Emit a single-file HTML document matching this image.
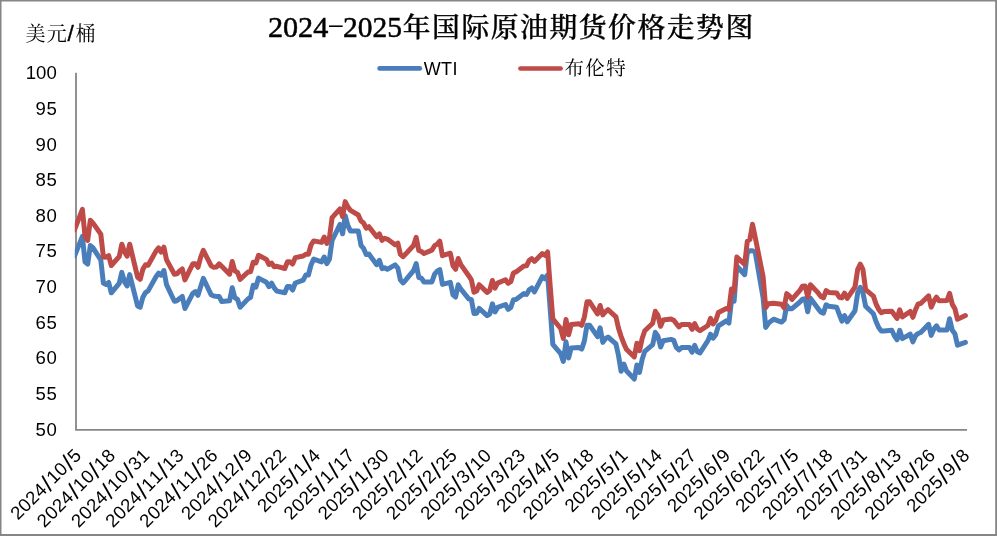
<!DOCTYPE html>
<html lang="zh-CN">
<head>
<meta charset="utf-8">
<title>2024-2025年国际原油期货价格走势图</title>
<style>
html,body{margin:0;padding:0;background:#fff;}
body{width:997px;height:536px;overflow:hidden;}
svg{display:block;}
.num{font-family:"Liberation Sans",sans-serif;font-size:18.6px;fill:#000;}
.xs{font-size:23.5px;}
.title{font-family:"Liberation Serif","Noto Serif CJK SC",serif;fill:#000;}
.tdig{font-size:30.4px;font-weight:normal;stroke:#000;stroke-width:0.5px;}
.thy{font-size:21px;font-weight:normal;}
.tcjk{font-size:27.8px;font-weight:500;stroke:#000;stroke-width:0.35px;}
.cjk{font-family:"Liberation Sans","Noto Serif CJK SC",serif;font-size:20px;fill:#000;}
.sl{font-size:22.5px;stroke:#000;stroke-width:0.4px;}
.leg{font-family:"Liberation Sans","Noto Serif CJK SC",serif;font-size:20px;fill:#000;}
</style>
</head>
<body>
<svg width="997" height="536" viewBox="0 0 997 536">
<rect x="0" y="0" width="997" height="536" fill="#fff"/>
<path d="M0 0H997V536H0Z M1.5 1.5V534H995.2V1.5Z" fill="#868686" fill-rule="evenodd"/>
<text class="title" y="36.6"><tspan class="tdig" x="267.9" textLength="60.4" lengthAdjust="spacingAndGlyphs">2024</tspan><tspan class="thy" x="327.0" dy="-5.6" textLength="17.6" lengthAdjust="spacingAndGlyphs">-</tspan><tspan class="tdig" x="343.1" dy="5.6" textLength="59.0" lengthAdjust="spacingAndGlyphs">2025</tspan><tspan class="tcjk" x="402.8" dy="0" letter-spacing="1.53">年国际原油期货价格走势图</tspan></text>
<text class="cjk" x="25.5" y="40.7" letter-spacing="1.2">美元<tspan class="sl" dx="-0.4">/</tspan><tspan dx="0.5">桶</tspan></text>
<line x1="379.6" y1="68.4" x2="419.8" y2="68.4" stroke="#4A7EBB" stroke-width="4.7" stroke-linecap="round"/>
<text class="leg" x="423.7" y="74.9" style="font-size:18px" letter-spacing="0.4">WTI</text>
<line x1="520.5" y1="68.5" x2="560.6" y2="68.5" stroke="#BE4B48" stroke-width="4.7" stroke-linecap="round"/>
<text class="leg" x="564.4" y="75.4" style="font-size:19.5px" letter-spacing="1.45">布伦特</text>
<g class="num">
<text x="56.8" y="79.3" text-anchor="end">100</text>
<text x="57.3" y="114.9" text-anchor="end" letter-spacing="0.5">95</text>
<text x="57.3" y="150.6" text-anchor="end" letter-spacing="0.5">90</text>
<text x="57.3" y="186.2" text-anchor="end" letter-spacing="0.5">85</text>
<text x="57.3" y="221.8" text-anchor="end" letter-spacing="0.5">80</text>
<text x="57.3" y="257.4" text-anchor="end" letter-spacing="0.5">75</text>
<text x="57.3" y="293.1" text-anchor="end" letter-spacing="0.5">70</text>
<text x="57.3" y="328.7" text-anchor="end" letter-spacing="0.5">65</text>
<text x="57.3" y="364.3" text-anchor="end" letter-spacing="0.5">60</text>
<text x="57.3" y="400.0" text-anchor="end" letter-spacing="0.5">55</text>
<text x="57.3" y="435.6" text-anchor="end" letter-spacing="0.5">50</text>
</g>
<g class="num">
<text transform="translate(82.3,456.5) rotate(-45)" x="-91.0 -80.3 -69.6 -58.9 -47.6 -40.1 -29.4 -18.0 -10.5">2024<tspan class="xs" dy="2.3">/</tspan><tspan dy="-2.3">10</tspan><tspan class="xs" dy="2.3">/</tspan><tspan dy="-2.3">5</tspan></text>
<text transform="translate(116.5,456.5) rotate(-45)" x="-101.7 -91.0 -80.3 -69.6 -58.3 -50.8 -40.1 -28.7 -21.2 -10.5">2024<tspan class="xs" dy="2.3">/</tspan><tspan dy="-2.3">10</tspan><tspan class="xs" dy="2.3">/</tspan><tspan dy="-2.3">18</tspan></text>
<text transform="translate(150.7,456.5) rotate(-45)" x="-101.7 -91.0 -80.3 -69.6 -58.3 -50.8 -40.1 -28.7 -21.2 -10.5">2024<tspan class="xs" dy="2.3">/</tspan><tspan dy="-2.3">10</tspan><tspan class="xs" dy="2.3">/</tspan><tspan dy="-2.3">31</tspan></text>
<text transform="translate(184.8,456.5) rotate(-45)" x="-101.7 -91.0 -80.3 -69.6 -58.3 -50.8 -40.1 -28.7 -21.2 -10.5">2024<tspan class="xs" dy="2.3">/</tspan><tspan dy="-2.3">11</tspan><tspan class="xs" dy="2.3">/</tspan><tspan dy="-2.3">13</tspan></text>
<text transform="translate(219.0,456.5) rotate(-45)" x="-101.7 -91.0 -80.3 -69.6 -58.3 -50.8 -40.1 -28.7 -21.2 -10.5">2024<tspan class="xs" dy="2.3">/</tspan><tspan dy="-2.3">11</tspan><tspan class="xs" dy="2.3">/</tspan><tspan dy="-2.3">26</tspan></text>
<text transform="translate(253.2,456.5) rotate(-45)" x="-91.0 -80.3 -69.6 -58.9 -47.6 -40.1 -29.4 -18.0 -10.5">2024<tspan class="xs" dy="2.3">/</tspan><tspan dy="-2.3">12</tspan><tspan class="xs" dy="2.3">/</tspan><tspan dy="-2.3">9</tspan></text>
<text transform="translate(287.3,456.5) rotate(-45)" x="-101.7 -91.0 -80.3 -69.6 -58.3 -50.8 -40.1 -28.7 -21.2 -10.5">2024<tspan class="xs" dy="2.3">/</tspan><tspan dy="-2.3">12</tspan><tspan class="xs" dy="2.3">/</tspan><tspan dy="-2.3">22</tspan></text>
<text transform="translate(321.5,456.5) rotate(-45)" x="-80.3 -69.6 -58.9 -48.2 -36.9 -29.4 -18.0 -10.5">2025<tspan class="xs" dy="2.3">/</tspan><tspan dy="-2.3">1</tspan><tspan class="xs" dy="2.3">/</tspan><tspan dy="-2.3">4</tspan></text>
<text transform="translate(355.7,456.5) rotate(-45)" x="-91.0 -80.3 -69.6 -58.9 -47.6 -40.1 -28.7 -21.2 -10.5">2025<tspan class="xs" dy="2.3">/</tspan><tspan dy="-2.3">1</tspan><tspan class="xs" dy="2.3">/</tspan><tspan dy="-2.3">17</tspan></text>
<text transform="translate(389.8,456.5) rotate(-45)" x="-91.0 -80.3 -69.6 -58.9 -47.6 -40.1 -28.7 -21.2 -10.5">2025<tspan class="xs" dy="2.3">/</tspan><tspan dy="-2.3">1</tspan><tspan class="xs" dy="2.3">/</tspan><tspan dy="-2.3">30</tspan></text>
<text transform="translate(424.0,456.5) rotate(-45)" x="-91.0 -80.3 -69.6 -58.9 -47.6 -40.1 -28.7 -21.2 -10.5">2025<tspan class="xs" dy="2.3">/</tspan><tspan dy="-2.3">2</tspan><tspan class="xs" dy="2.3">/</tspan><tspan dy="-2.3">12</tspan></text>
<text transform="translate(458.2,456.5) rotate(-45)" x="-91.0 -80.3 -69.6 -58.9 -47.6 -40.1 -28.7 -21.2 -10.5">2025<tspan class="xs" dy="2.3">/</tspan><tspan dy="-2.3">2</tspan><tspan class="xs" dy="2.3">/</tspan><tspan dy="-2.3">25</tspan></text>
<text transform="translate(492.3,456.5) rotate(-45)" x="-91.0 -80.3 -69.6 -58.9 -47.6 -40.1 -28.7 -21.2 -10.5">2025<tspan class="xs" dy="2.3">/</tspan><tspan dy="-2.3">3</tspan><tspan class="xs" dy="2.3">/</tspan><tspan dy="-2.3">10</tspan></text>
<text transform="translate(526.5,456.5) rotate(-45)" x="-91.0 -80.3 -69.6 -58.9 -47.6 -40.1 -28.7 -21.2 -10.5">2025<tspan class="xs" dy="2.3">/</tspan><tspan dy="-2.3">3</tspan><tspan class="xs" dy="2.3">/</tspan><tspan dy="-2.3">23</tspan></text>
<text transform="translate(560.7,456.5) rotate(-45)" x="-80.3 -69.6 -58.9 -48.2 -36.9 -29.4 -18.0 -10.5">2025<tspan class="xs" dy="2.3">/</tspan><tspan dy="-2.3">4</tspan><tspan class="xs" dy="2.3">/</tspan><tspan dy="-2.3">5</tspan></text>
<text transform="translate(594.8,456.5) rotate(-45)" x="-91.0 -80.3 -69.6 -58.9 -47.6 -40.1 -28.7 -21.2 -10.5">2025<tspan class="xs" dy="2.3">/</tspan><tspan dy="-2.3">4</tspan><tspan class="xs" dy="2.3">/</tspan><tspan dy="-2.3">18</tspan></text>
<text transform="translate(629.0,456.5) rotate(-45)" x="-80.3 -69.6 -58.9 -48.2 -36.9 -29.4 -18.0 -10.5">2025<tspan class="xs" dy="2.3">/</tspan><tspan dy="-2.3">5</tspan><tspan class="xs" dy="2.3">/</tspan><tspan dy="-2.3">1</tspan></text>
<text transform="translate(663.2,456.5) rotate(-45)" x="-91.0 -80.3 -69.6 -58.9 -47.6 -40.1 -28.7 -21.2 -10.5">2025<tspan class="xs" dy="2.3">/</tspan><tspan dy="-2.3">5</tspan><tspan class="xs" dy="2.3">/</tspan><tspan dy="-2.3">14</tspan></text>
<text transform="translate(697.3,456.5) rotate(-45)" x="-91.0 -80.3 -69.6 -58.9 -47.6 -40.1 -28.7 -21.2 -10.5">2025<tspan class="xs" dy="2.3">/</tspan><tspan dy="-2.3">5</tspan><tspan class="xs" dy="2.3">/</tspan><tspan dy="-2.3">27</tspan></text>
<text transform="translate(731.5,456.5) rotate(-45)" x="-80.3 -69.6 -58.9 -48.2 -36.9 -29.4 -18.0 -10.5">2025<tspan class="xs" dy="2.3">/</tspan><tspan dy="-2.3">6</tspan><tspan class="xs" dy="2.3">/</tspan><tspan dy="-2.3">9</tspan></text>
<text transform="translate(765.7,456.5) rotate(-45)" x="-91.0 -80.3 -69.6 -58.9 -47.6 -40.1 -28.7 -21.2 -10.5">2025<tspan class="xs" dy="2.3">/</tspan><tspan dy="-2.3">6</tspan><tspan class="xs" dy="2.3">/</tspan><tspan dy="-2.3">22</tspan></text>
<text transform="translate(799.8,456.5) rotate(-45)" x="-80.3 -69.6 -58.9 -48.2 -36.9 -29.4 -18.0 -10.5">2025<tspan class="xs" dy="2.3">/</tspan><tspan dy="-2.3">7</tspan><tspan class="xs" dy="2.3">/</tspan><tspan dy="-2.3">5</tspan></text>
<text transform="translate(834.0,456.5) rotate(-45)" x="-91.0 -80.3 -69.6 -58.9 -47.6 -40.1 -28.7 -21.2 -10.5">2025<tspan class="xs" dy="2.3">/</tspan><tspan dy="-2.3">7</tspan><tspan class="xs" dy="2.3">/</tspan><tspan dy="-2.3">18</tspan></text>
<text transform="translate(868.2,456.5) rotate(-45)" x="-91.0 -80.3 -69.6 -58.9 -47.6 -40.1 -28.7 -21.2 -10.5">2025<tspan class="xs" dy="2.3">/</tspan><tspan dy="-2.3">7</tspan><tspan class="xs" dy="2.3">/</tspan><tspan dy="-2.3">31</tspan></text>
<text transform="translate(902.3,456.5) rotate(-45)" x="-91.0 -80.3 -69.6 -58.9 -47.6 -40.1 -28.7 -21.2 -10.5">2025<tspan class="xs" dy="2.3">/</tspan><tspan dy="-2.3">8</tspan><tspan class="xs" dy="2.3">/</tspan><tspan dy="-2.3">13</tspan></text>
<text transform="translate(936.5,456.5) rotate(-45)" x="-91.0 -80.3 -69.6 -58.9 -47.6 -40.1 -28.7 -21.2 -10.5">2025<tspan class="xs" dy="2.3">/</tspan><tspan dy="-2.3">8</tspan><tspan class="xs" dy="2.3">/</tspan><tspan dy="-2.3">26</tspan></text>
<text transform="translate(970.7,456.5) rotate(-45)" x="-80.3 -69.6 -58.9 -48.2 -36.9 -29.4 -18.0 -10.5">2025<tspan class="xs" dy="2.3">/</tspan><tspan dy="-2.3">9</tspan><tspan class="xs" dy="2.3">/</tspan><tspan dy="-2.3">8</tspan></text>
</g>
<path d="M76.0 72.8V429.8H967.0" fill="none" stroke="#868686" stroke-width="1.8"/>
<clipPath id="plot"><rect x="74.8" y="60" width="901.0" height="380"/></clipPath>
<g clip-path="url(#plot)" fill="none" stroke-width="5.0" stroke-linejoin="round" stroke-linecap="round">
<polyline stroke="#4A7EBB" points="74.5,256.1 82.4,236.4 85.0,261.8 87.7,264.2 90.3,245.6 92.9,247.7 100.8,260.0 103.4,283.1 106.1,284.5 108.7,282.5 111.3,292.8 119.2,283.3 121.8,272.4 124.5,281.8 127.1,285.9 129.7,274.6 137.6,306.0 140.2,307.2 142.9,297.2 145.5,292.6 148.1,290.9 156.0,276.8 158.6,273.1 161.2,275.2 163.9,270.5 166.5,284.6 174.4,301.2 177.0,300.7 179.6,298.5 182.3,296.5 184.9,308.5 192.8,293.3 195.4,291.6 198.0,295.3 200.7,286.6 203.3,278.4 211.2,294.8 213.8,296.0 216.4,296.4 219.1,296.4 221.7,301.5 229.6,300.8 232.2,287.7 234.8,297.7 237.5,299.4 240.1,307.2 248.0,298.9 250.6,297.3 253.2,285.2 255.9,287.1 258.5,278.1 266.4,282.2 269.0,286.7 271.6,283.1 274.2,287.9 276.9,291.1 284.8,292.7 287.4,286.6 290.0,286.6 292.6,290.0 295.3,283.0 303.2,280.2 305.8,275.0 308.4,275.0 311.0,265.0 313.7,259.1 321.6,261.9 324.2,257.0 326.8,263.6 329.4,259.3 332.1,240.5 340.0,224.4 342.6,233.8 345.2,215.7 347.8,225.4 350.5,231.1 358.3,231.1 361.0,245.3 363.6,248.5 366.2,254.4 368.9,254.1 376.7,264.7 379.4,260.4 382.0,268.6 384.6,267.8 387.3,269.3 395.1,264.8 397.8,268.0 400.4,279.9 403.0,282.9 405.6,280.2 413.5,270.7 416.2,263.6 418.8,277.5 421.4,278.1 424.0,282.0 431.9,282.0 434.6,274.1 437.2,271.2 439.8,269.6 442.4,284.4 450.3,282.3 453.0,294.9 455.6,297.1 458.2,284.8 460.8,289.0 468.7,298.9 471.4,299.7 474.0,313.6 476.6,313.2 479.2,308.4 487.1,315.6 489.7,314.0 492.4,303.8 495.0,311.9 497.6,307.4 505.5,304.5 508.1,309.4 510.8,307.5 513.4,299.7 516.0,299.5 523.9,293.6 526.5,294.4 529.2,289.8 531.8,287.9 534.4,291.8 542.3,276.7 544.9,278.7 547.6,275.1 550.2,309.0 552.8,344.4 560.7,353.6 563.3,361.5 566.0,341.8 568.6,358.0 571.2,347.9 579.1,347.6 581.7,349.1 584.4,340.9 587.0,325.2 589.6,325.2 597.5,336.6 600.1,327.8 602.8,342.4 605.4,338.7 608.0,337.0 615.9,343.9 618.5,355.5 621.1,371.3 623.8,364.0 626.4,370.7 634.3,379.0 636.9,365.0 639.5,372.3 642.2,359.2 644.8,351.3 652.7,344.6 655.3,332.4 657.9,336.1 660.6,347.0 663.2,340.8 671.1,339.4 673.7,340.3 676.3,347.4 679.0,350.0 681.6,347.6 689.5,347.6 692.1,352.2 694.7,345.4 697.4,351.8 700.0,352.9 707.9,340.6 710.5,334.2 713.1,338.2 715.8,334.5 718.4,325.9 726.3,320.8 728.9,323.1 731.5,300.5 734.1,301.2 736.8,266.0 744.7,274.7 747.3,252.8 749.9,250.7 752.5,250.7 755.2,252.1 763.1,297.9 765.7,327.4 768.3,323.5 770.9,321.2 773.6,319.2 781.5,322.1 784.1,319.7 786.7,305.5 789.3,308.7 792.0,308.7 799.9,302.0 802.5,299.2 805.1,298.8 807.7,311.7 810.4,298.3 818.2,308.8 820.9,312.1 823.5,313.1 826.1,304.8 828.8,306.2 836.6,307.2 839.3,314.3 841.9,321.1 844.5,315.6 847.2,321.8 855.0,310.7 857.7,292.9 860.3,287.3 862.9,292.6 865.6,306.3 873.4,313.7 876.1,321.8 878.7,327.5 881.3,330.9 883.9,330.9 891.8,330.3 894.5,336.0 897.1,339.7 899.7,330.3 902.3,338.6 910.2,334.2 912.9,341.8 915.5,335.7 918.1,333.5 920.7,332.5 928.6,324.3 931.2,335.4 933.9,329.0 936.5,325.8 939.1,330.0 947.0,330.0 949.6,318.7 952.3,330.2 954.9,333.7 957.5,345.2 965.4,342.4"/>
<polyline stroke="#BE4B48" points="74.5,229.9 82.4,209.4 85.0,236.1 87.7,240.4 90.3,220.3 92.9,222.9 100.8,234.1 103.4,257.0 106.1,257.2 108.7,255.6 111.3,265.5 119.2,256.7 121.8,244.2 124.5,251.9 127.1,256.1 129.7,244.2 137.6,277.2 140.2,279.3 142.9,269.1 145.5,264.8 148.1,265.2 156.0,251.1 158.6,247.9 161.2,252.2 163.9,247.2 166.5,259.7 174.4,274.2 177.0,273.8 179.6,271.0 182.3,269.0 184.9,279.9 192.8,263.8 195.4,263.7 198.0,267.3 200.7,257.1 203.3,250.4 211.2,265.8 213.8,267.3 216.4,267.1 219.1,263.9 221.7,266.3 229.6,274.2 232.2,261.5 234.8,270.8 237.5,272.4 240.1,279.3 248.0,272.0 250.6,271.7 253.2,262.2 255.9,263.0 258.5,255.3 266.4,259.4 269.0,264.5 271.6,263.1 274.2,266.8 276.9,266.3 284.8,268.5 287.4,261.8 290.0,261.8 292.6,264.0 295.3,257.6 303.2,256.0 305.8,254.2 308.4,254.2 311.0,245.0 313.7,240.9 321.6,242.4 324.2,237.0 326.8,243.4 329.4,238.0 332.1,217.7 340.0,208.8 342.6,216.6 345.2,201.6 347.8,206.8 350.5,210.4 358.3,215.0 361.0,221.1 363.6,223.1 366.2,228.2 368.9,226.7 376.7,236.8 379.4,233.9 382.0,240.4 384.6,238.3 387.3,239.1 395.1,244.8 397.8,243.1 400.4,254.4 403.0,256.7 405.6,254.1 413.5,245.5 416.2,237.4 418.8,250.4 421.4,251.5 424.0,253.5 431.9,250.1 434.6,245.7 437.2,244.2 439.8,241.1 442.4,255.7 450.3,253.2 453.0,265.8 455.6,269.3 458.2,258.5 460.8,264.6 468.7,275.7 471.4,279.9 474.0,292.3 476.6,291.1 479.2,284.7 487.1,292.4 489.7,290.4 492.4,280.5 495.0,288.1 497.6,283.1 505.5,279.7 508.1,283.3 510.8,281.7 513.4,273.0 516.0,271.9 523.9,265.9 526.5,265.8 529.2,260.3 531.8,258.6 534.4,261.4 542.3,253.5 544.9,255.3 547.6,252.0 550.2,286.3 552.8,318.8 560.7,328.5 563.3,338.4 566.0,319.5 568.6,334.8 571.2,324.6 579.1,323.8 581.7,325.3 584.4,316.9 587.0,301.8 589.6,301.8 597.5,313.9 600.1,305.5 602.8,314.9 605.4,311.9 608.0,309.6 615.9,316.8 618.5,328.3 621.1,336.3 623.8,343.4 626.4,349.3 634.3,356.9 636.9,343.2 639.5,350.6 642.2,338.3 644.8,330.7 652.7,323.2 655.3,311.3 657.9,315.1 660.6,326.3 663.2,320.0 671.1,319.1 673.7,320.2 676.3,323.6 679.0,326.9 681.6,324.5 689.5,324.5 692.1,329.4 694.7,323.6 697.4,329.0 700.0,330.7 707.9,325.5 710.5,318.4 713.1,323.9 715.8,320.5 718.4,312.4 726.3,308.4 728.9,309.6 731.5,288.9 734.1,291.8 736.8,257.1 744.7,264.3 747.3,241.3 749.9,239.5 752.5,224.2 755.2,237.3 763.1,276.7 765.7,307.7 768.3,303.8 770.9,303.5 773.6,303.2 781.5,304.3 784.1,307.9 786.7,293.6 789.3,295.8 792.0,299.4 799.9,290.3 802.5,286.2 805.1,285.9 807.7,297.0 810.4,284.7 818.2,292.9 820.9,296.5 823.5,297.8 826.1,290.7 828.8,292.4 836.6,292.9 839.3,297.3 841.9,297.9 844.5,293.1 847.2,298.4 855.0,287.0 857.7,269.4 860.3,264.2 862.9,269.3 865.6,289.6 873.4,296.1 876.1,304.1 878.7,309.4 881.3,312.7 883.9,311.6 891.8,311.3 894.5,314.9 897.1,318.4 899.7,309.8 902.3,316.9 910.2,311.5 912.9,317.3 915.5,309.8 918.1,303.9 920.7,303.5 928.6,295.8 931.2,307.1 933.9,301.2 936.5,297.1 939.1,300.7 947.0,300.5 949.6,293.4 952.3,304.4 954.9,308.7 957.5,319.3 965.4,315.6"/>
</g>
</svg>
</body>
</html>
